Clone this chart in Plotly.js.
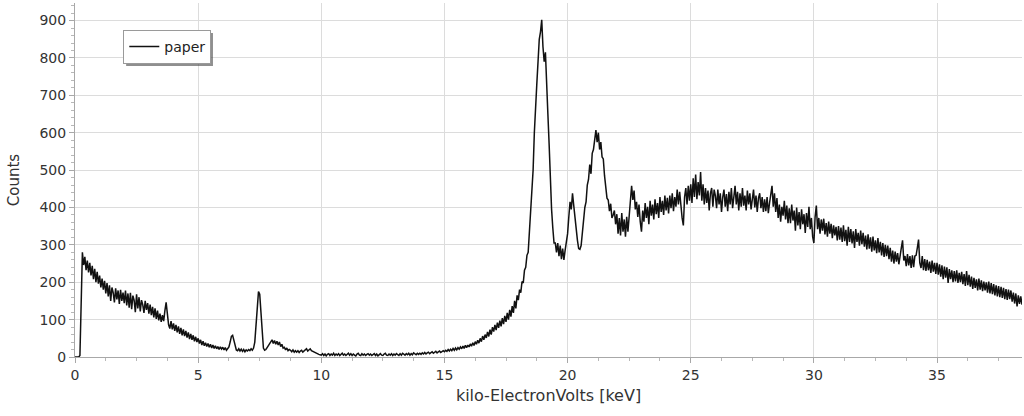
<!DOCTYPE html>
<html>
<head>
<meta charset="utf-8">
<script src="https://cdn.plot.ly/plotly-3.0.1.min.js"></script>
<style>html,body{margin:0;padding:0;background:#fff;}#chart{width:1024px;height:416px;}</style>
</head>
<body>
<div id="chart"></div>
<script>
// Energy step of the spectrum channels (keV) and start energy
const energyStart = 0.0;
const energyStep = 0.05;
const seriesName = "paper";
const xTitle = "kilo-ElectronVolts [keV]";
const yTitle = "Counts";
const xTickVals = [0, 5, 10, 15, 20, 25, 30, 35];
const yTickVals = [0, 100, 200, 300, 400, 500, 600, 700, 800, 900];

// Counts, one row per keV (20 channels each)
const counts = [
  0,0,0,0,4,165,280,246,268,232,258,226,252,218,244,208,236,200,228,196,
  218,186,210,180,204,170,198,162,192,150,186,172,146,184,154,178,142,180,150,172,
  144,178,138,170,132,172,128,164,152,120,168,130,160,122,152,140,118,150,126,144,
  116,140,112,134,106,130,102,124,98,116,94,112,96,124,146,116,86,76,96,74,
  90,70,86,66,82,62,78,58,74,56,70,52,66,48,62,46,58,42,54,40,
  50,36,46,32,42,30,38,28,36,26,34,24,32,23,30,22,28,20,27,21,
  26,19,25,18,23,27,40,55,58,42,26,19,17,22,16,21,15,20,14,19,
  16,20,17,22,18,24,40,95,150,175,168,110,50,24,18,20,25,30,36,40,
  46,36,44,34,42,32,40,28,34,24,26,19,24,17,20,18,14,19,13,17,
  13,17,12,16,18,13,17,19,22,16,20,22,17,15,13,11,9,8,7,6,
  5,9,4,8,3,7,9,4,8,5,10,4,8,5,9,4,7,10,5,8,
  4,8,10,5,9,4,8,5,3,8,10,5,4,9,5,8,4,7,9,5,
  8,4,7,9,4,8,3,7,9,5,4,8,10,5,4,8,5,9,4,8,
  5,9,7,4,9,5,10,6,5,9,6,10,5,9,6,11,7,6,10,7,
  10,7,11,8,12,8,11,13,9,12,14,10,13,15,11,14,16,12,15,17,
  14,18,15,20,16,21,17,23,18,24,19,25,21,27,22,29,23,31,25,32,
  27,35,29,38,31,41,34,45,37,50,41,56,46,60,51,67,55,73,60,80,
  68,86,72,92,78,97,82,104,88,110,94,118,100,126,108,136,118,150,130,165,
  152,180,172,202,198,232,240,272,280,330,380,460,500,600,650,730,790,850,870,902,
  830,790,815,710,650,570,470,395,345,305,305,280,305,270,298,262,290,260,285,312,
  330,375,415,395,438,405,372,325,312,290,288,298,335,355,400,415,460,475,515,490,
  545,555,590,607,575,600,555,575,535,530,485,460,425,420,390,410,372,380,392,355,
  382,330,372,325,385,335,368,322,375,335,385,410,458,420,445,395,415,375,408,362,
  335,392,362,412,372,402,355,418,378,408,368,422,382,412,372,428,388,418,380,432,
  392,426,384,432,398,438,390,428,402,448,408,442,392,372,352,428,452,408,458,418,
  462,412,478,428,488,422,468,432,495,418,462,408,452,412,445,392,438,452,402,448,
  432,398,448,408,438,388,428,448,402,436,390,442,408,452,398,432,458,408,442,392,
  438,402,452,405,432,392,445,408,438,395,428,448,400,432,388,425,438,398,428,388,
  422,390,428,385,412,440,458,402,438,388,425,372,408,362,402,378,418,368,405,358,
  398,358,408,365,392,338,400,352,388,342,395,355,382,332,385,348,402,342,372,322,
  305,375,405,342,372,330,368,338,370,328,358,322,362,330,356,318,352,325,348,312,
  350,314,346,308,352,310,340,298,348,308,342,304,336,292,342,308,332,298,338,302,
  332,295,325,288,328,290,320,282,322,285,312,278,318,280,308,272,305,268,300,270,
  298,262,292,255,285,250,282,255,278,248,275,292,312,258,270,243,275,245,270,238,
  272,240,270,272,292,314,252,238,270,232,262,230,260,232,255,225,258,228,252,222,
  252,220,248,215,245,208,242,212,240,198,235,208,232,200,230,202,232,198,225,200,
  228,195,222,190,230,192,220,188,215,182,212,185,208,178,210,180,205,176,202,178,
  200,172,202,170,198,168,195,165,192,162,190,160,188,158,185,155,182,153,180,155,
  178,148,172,143,170,135,165,142,162,140
];
const energies = counts.map((_, i) => +(energyStart + i * energyStep).toFixed(2));

const fontFam = '"DejaVu Sans", Verdana, sans-serif';

const trace = {
  x: energies, y: counts, type: 'scatter', mode: 'lines', name: seriesName,
  line: {color: '#111111', width: 1.5}, showlegend: true
};

const layout = {
  width: 1024, height: 416,
  margin: {l: 75, r: 2, t: 3, b: 59},
  paper_bgcolor: '#ffffff', plot_bgcolor: '#ffffff',
  font: {family: fontFam, size: 14, color: '#333333'},
  xaxis: {
    range: [0, 38.45], tickvals: xTickVals, ticktext: xTickVals.map(String),
    showgrid: true, gridcolor: '#dcdcdc', gridwidth: 1,
    showline: true, linecolor: '#a8a8a8', linewidth: 1,
    ticks: 'outside', ticklen: 5, tickcolor: '#a8a8a8',
    minor: {dtick: 1.25, tick0: 0, ticks: 'outside', ticklen: 3, tickcolor: '#b8b8b8', showgrid: false},
    zeroline: false,
    title: {text: xTitle, font: {size: 16, color: '#333333'}, standoff: 8},
    tickfont: {size: 14, color: '#333333'}
  },
  yaxis: {
    range: [0, 947], tickvals: yTickVals, ticktext: yTickVals.map(String),
    showgrid: true, gridcolor: '#dcdcdc', gridwidth: 1,
    showline: true, linecolor: '#a8a8a8', linewidth: 1,
    ticks: 'outside', ticklen: 5, tickcolor: '#a8a8a8',
    minor: {dtick: 20, tick0: 0, ticks: 'outside', ticklen: 3, tickcolor: '#b8b8b8', showgrid: false},
    zeroline: false,
    title: {text: yTitle, font: {size: 15, color: '#333333'}, standoff: 16},
    tickfont: {size: 14, color: '#333333'}
  },
  showlegend: true,
  legend: {
    x: 0.051, y: 0.924, xanchor: 'left', yanchor: 'top',
    bgcolor: '#ffffff', bordercolor: '#9a9a9a', borderwidth: 1,
    font: {size: 14, color: '#222222'}, itemwidth: 30
  },
  shapes: [
    {type: 'rect', xref: 'paper', yref: 'paper', x0: 0.054, x1: 0.1457, y0: 0.822, y1: 0.915,
     fillcolor: '#444444', line: {width: 0}, layer: 'above', opacity: 0.6}
  ]
};

Plotly.newPlot('chart', [trace], layout, {displayModeBar: false, staticPlot: true});
</script>
</body>
</html>
